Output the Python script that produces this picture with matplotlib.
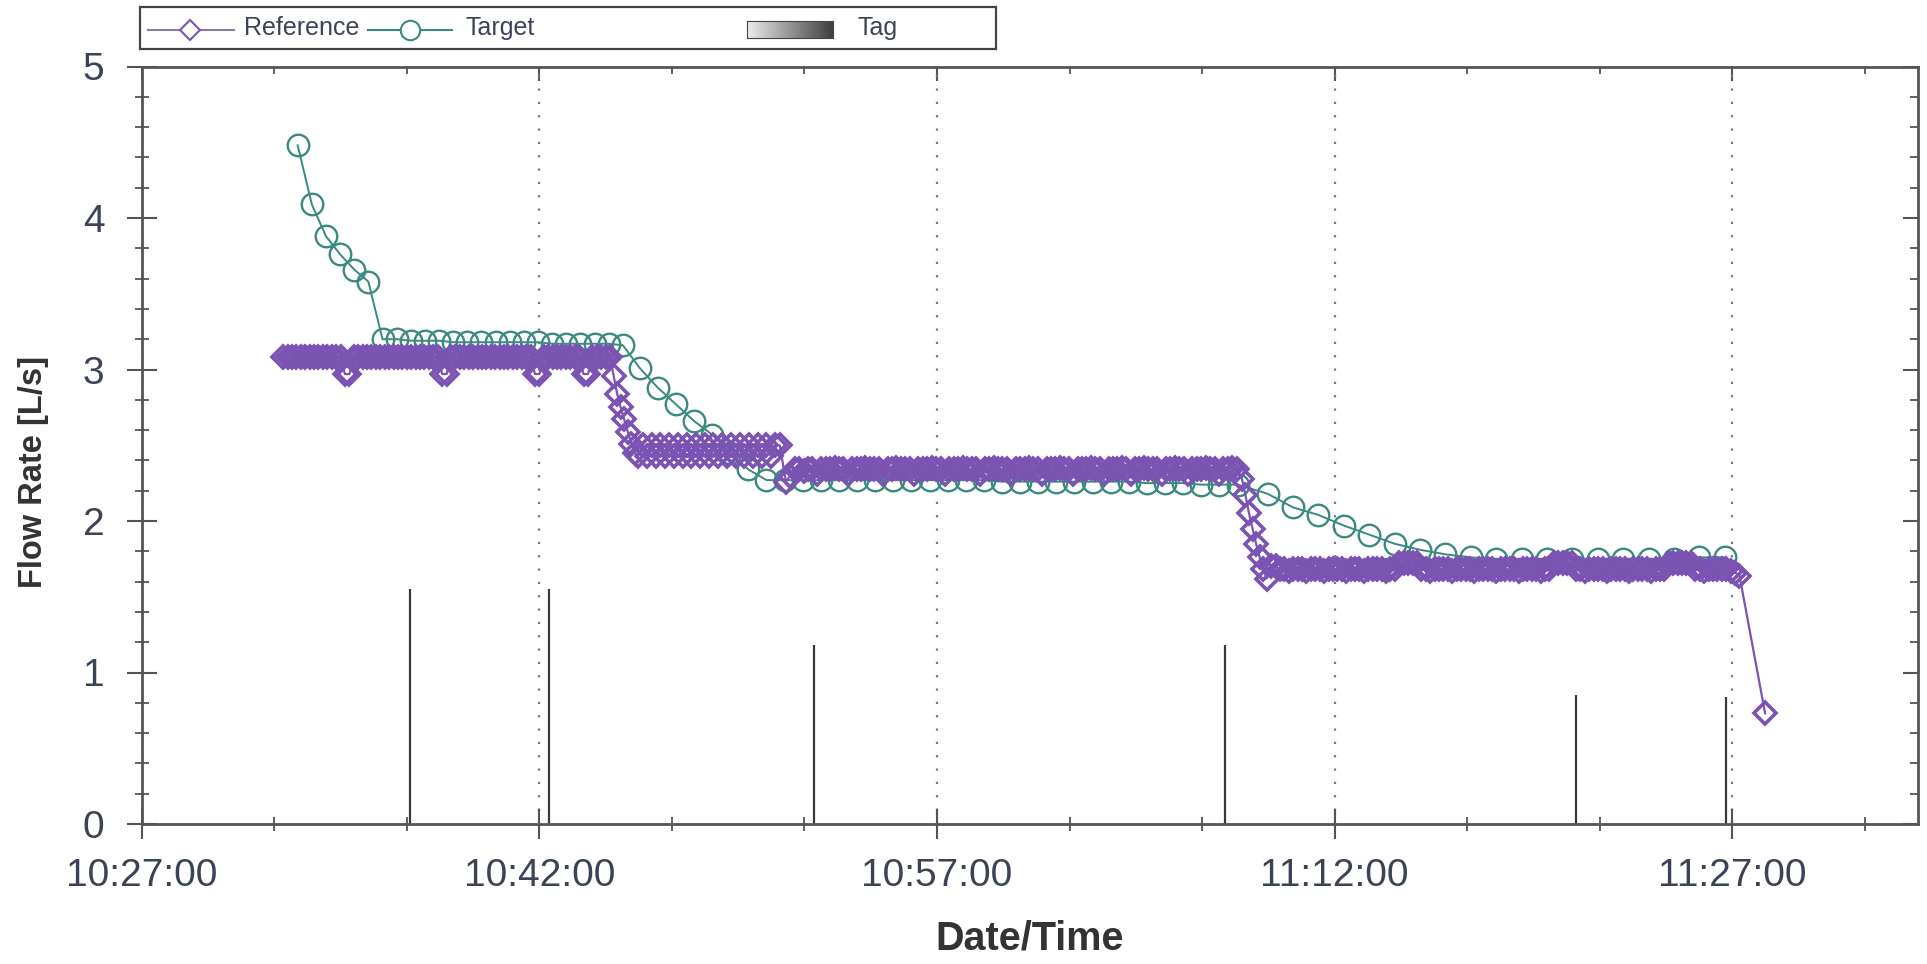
#!/usr/bin/python3

import numpy as np
import pandas as pd
import matplotlib
matplotlib.use('Agg')
import matplotlib.pyplot as plt
import matplotlib.dates as mdates
from matplotlib import font_manager
from matplotlib.lines import Line2D
from matplotlib.patches import Rectangle
from matplotlib.ticker import MultipleLocator

DAY = '2021-01-01 '

# Reference flow is logged in runs: start time, step in seconds, values
ref_starts = ['10:32:20', '10:44:48', '10:45:44', '10:51:18', '11:08:30', '11:09:36', '11:28:14']
ref_steps = [10, 8, 10, 10, 8, 10, 10]

ref_run1 = [
	3.08, 3.08, 3.08, 3.08, 3.08, 3.08, 3.08, 3.08, 3.08, 3.08,
	3.08, 3.08, 3.08, 3.08, 2.97, 2.97, 3.08, 3.08, 3.08, 3.08,
	3.08, 3.08, 3.08, 3.08, 3.08, 3.08, 3.08, 3.08, 3.08, 3.08,
	3.08, 3.08, 3.08, 3.08, 3.08, 3.08, 2.97, 2.97, 3.08, 3.08,
	3.08, 3.08, 3.08, 3.08, 3.08, 3.08, 3.08, 3.08, 3.08, 3.08,
	3.08, 3.08, 3.08, 3.08, 3.08, 3.08, 3.08, 2.97, 2.97, 3.08,
	3.08, 3.08, 3.08, 3.08, 3.08, 3.08, 3.08, 3.08, 2.97, 2.97,
	3.08, 3.08, 3.08, 3.08, 3.08]
ref_run2 = [2.96, 2.84, 2.75, 2.67, 2.59, 2.51, 2.45]
ref_run3 = [
	2.43, 2.50, 2.43, 2.50, 2.43, 2.50, 2.43, 2.50, 2.43, 2.50, 2.43,
	2.50, 2.43, 2.50, 2.43, 2.50, 2.43, 2.50, 2.43, 2.50, 2.43, 2.50,
	2.43, 2.50, 2.43, 2.50, 2.43, 2.50, 2.43, 2.50, 2.43, 2.50, 2.50]
ref_run4 = [
	2.26, 2.30, 2.34, 2.34, 2.33, 2.34, 2.34, 2.31, 2.34, 2.34,
	2.34, 2.35, 2.34, 2.34, 2.31, 2.34, 2.34, 2.34, 2.35, 2.34,
	2.34, 2.34, 2.31, 2.34, 2.34, 2.35, 2.34, 2.34, 2.34, 2.31,
	2.34, 2.34, 2.34, 2.35, 2.34, 2.34, 2.31, 2.34, 2.34, 2.34,
	2.35, 2.34, 2.34, 2.34, 2.31, 2.34, 2.34, 2.35, 2.34, 2.34,
	2.34, 2.31, 2.34, 2.34, 2.34, 2.35, 2.34, 2.34, 2.31, 2.34,
	2.34, 2.34, 2.35, 2.34, 2.34, 2.31, 2.34, 2.34, 2.34, 2.35,
	2.34, 2.34, 2.31, 2.34, 2.34, 2.34, 2.35, 2.34, 2.31, 2.34,
	2.34, 2.35, 2.34, 2.34, 2.34, 2.31, 2.34, 2.34, 2.35, 2.34,
	2.34, 2.31, 2.34, 2.34, 2.34, 2.35, 2.34, 2.34, 2.31, 2.34,
	2.34, 2.35, 2.34]
ref_run5 = [2.28, 2.17, 2.05, 1.95, 1.85, 1.76, 1.68, 1.62]
ref_run6 = [
	1.70, 1.70, 1.68, 1.68, 1.67, 1.68, 1.68, 1.68, 1.67, 1.68,
	1.68, 1.68, 1.67, 1.68, 1.68, 1.68, 1.68, 1.67, 1.68, 1.68,
	1.68, 1.67, 1.68, 1.68, 1.68, 1.68, 1.67, 1.68, 1.68, 1.72,
	1.72, 1.72, 1.72, 1.72, 1.68, 1.68, 1.67, 1.68, 1.68, 1.68,
	1.68, 1.67, 1.68, 1.68, 1.68, 1.68, 1.67, 1.68, 1.68, 1.68,
	1.68, 1.67, 1.68, 1.68, 1.68, 1.68, 1.67, 1.68, 1.68, 1.68,
	1.68, 1.67, 1.68, 1.68, 1.72, 1.72, 1.72, 1.72, 1.72, 1.68,
	1.68, 1.67, 1.68, 1.68, 1.68, 1.68, 1.67, 1.68, 1.68, 1.68,
	1.68, 1.67, 1.68, 1.68, 1.68, 1.68, 1.67, 1.68, 1.68, 1.68,
	1.72, 1.72, 1.72, 1.72, 1.72, 1.72, 1.68, 1.68, 1.67, 1.68,
	1.68, 1.68, 1.68, 1.68, 1.67, 1.66, 1.64]
ref_run7 = [0.73]
ref_runs = [ref_run1, ref_run2, ref_run3, ref_run4, ref_run5, ref_run6, ref_run7]

# Target flow, same layout
target_starts = ['10:32:53', '10:45:47', '11:09:28']
target_steps = [32, 41, 57.5]
target_run1 = [4.48, 4.09, 3.88, 3.76, 3.66, 3.58, 3.20, 3.20, 3.19, 3.19, 3.19, 3.18,
	3.18, 3.18, 3.18, 3.18, 3.18, 3.18, 3.17, 3.17, 3.17, 3.17, 3.17, 3.16]
target_run2 = [3.01, 2.88, 2.77, 2.66, 2.57, 2.45, 2.34, 2.27,
	2.27, 2.27, 2.27, 2.27, 2.27, 2.27, 2.27, 2.27, 2.27, 2.27, 2.27, 2.27,
	2.26, 2.26, 2.26, 2.26, 2.26, 2.26, 2.26, 2.26, 2.25, 2.25, 2.25, 2.24, 2.24, 2.24]
target_run3 = [2.18, 2.09, 2.04, 1.97, 1.91, 1.85, 1.81, 1.78, 1.76, 1.75,
	1.75, 1.75, 1.75, 1.75, 1.75, 1.75, 1.75, 1.76, 1.76]
target_runs = [target_run1, target_run2, target_run3]

tag_times = ['10:37:08', '10:42:21', '10:52:21', '11:07:52', '11:21:05', '11:26:45']
tag_heights = [1.55, 1.55, 1.18, 1.18, 0.85, 0.84]

x_start = '10:27:00'
x_end = '11:34:00'

REF_COLOR = '#7b53b3'
TGT_COLOR = '#3a8a80'
TAG_COLOR = '#3a3a3a'
AXIS_COLOR = '#555555'
TEXT_COLOR = '#3d4356'

W, H = 1927, 964


def fx(px):
	return px / W


def fy(py):
	return 1 - py / H


def narrow_font():
	''' condensed family if one is installed'''

	try:
		font_manager.findfont('Liberation Sans Narrow', fallback_to_default=False)
		return 'Liberation Sans Narrow'
	except ValueError:
		return None


def main():
	'''main function'''

	plt.rcParams['font.family'] = ['Liberation Sans', 'DejaVu Sans']
	narrow = narrow_font()

	ref = build_series(ref_starts, ref_steps, ref_runs)
	target = build_series(target_starts, target_steps, target_runs)
	tags = pd.to_datetime([DAY + t for t in tag_times])

	fig = plt.figure(figsize=(W / 100, H / 100), dpi=100)
	ax = fig.add_axes([fx(141.7), fy(824), fx(1918) - fx(141.7), fy(66.5) - fy(824)])

	ax.vlines(tags, 0, tag_heights, color=TAG_COLOR, lw=1.6, zorder=2)
	ax.plot(target.index, target.values, color=TGT_COLOR, lw=1.4, marker='o', ms=15.5,
		mfc='none', mec=TGT_COLOR, mew=1.7, zorder=3)
	ax.plot(ref.index, ref.values, color=REF_COLOR, lw=1.6, marker='D', ms=11,
		mfc='none', mec=REF_COLOR, mew=2.6, zorder=4)

	style_axes(ax, narrow)
	draw_legend(fig, narrow)

	fig.savefig('out.png', dpi=100)


def build_series(starts, steps, runs):
	''' joins runs of evenly logged samples into one time series'''

	times = []
	values = []
	for start, step, run in zip(starts, steps, runs):
		t0 = pd.Timestamp(DAY + start)
		for i, v in enumerate(run):
			times.append(t0 + pd.Timedelta(seconds=step * i))
			values.append(v)
	return pd.Series(values, index=pd.DatetimeIndex(times))


def style_axes(ax, narrow):
	''' ticks, grid, limits and labels'''

	ax.set_xlim(pd.Timestamp(DAY + x_start), pd.Timestamp(DAY + x_end))
	ax.set_ylim(0, 5)

	ax.xaxis.set_major_locator(mdates.MinuteLocator(byminute=[12, 27, 42, 57]))
	ax.xaxis.set_minor_locator(mdates.MinuteLocator(byminute=range(2, 60, 5)))
	ax.xaxis.set_major_formatter(mdates.DateFormatter('%H:%M:%S'))
	ax.yaxis.set_major_locator(MultipleLocator(1))
	ax.yaxis.set_minor_locator(MultipleLocator(0.2))

	ax.tick_params(which='major', direction='inout', length=21.6, width=1.5,
		color=AXIS_COLOR, labelsize=28, labelcolor=TEXT_COLOR)
	ax.tick_params(which='minor', direction='inout', length=10, width=1.3, color=AXIS_COLOR)
	ax.tick_params(axis='x', which='major', pad=14)
	ax.tick_params(axis='y', which='major', pad=16)

	for spine in ax.spines.values():
		spine.set_color(AXIS_COLOR)
		spine.set_linewidth(2)

	ax.grid(axis='x', which='major', linestyle=(0, (1, 5)), color='#777777', lw=1.6)

	# inward ticks on the top and right sides
	top = ax.secondary_xaxis('top')
	top.xaxis.set_major_locator(mdates.MinuteLocator(byminute=[12, 27, 42, 57]))
	top.xaxis.set_minor_locator(mdates.MinuteLocator(byminute=range(2, 60, 5)))
	top.tick_params(which='major', direction='in', length=11, width=1.5, color=AXIS_COLOR, labeltop=False)
	top.tick_params(which='minor', direction='in', length=5.5, width=1.3, color=AXIS_COLOR)
	top.spines['top'].set_visible(False)

	right = ax.secondary_yaxis('right')
	right.yaxis.set_major_locator(MultipleLocator(1))
	right.yaxis.set_minor_locator(MultipleLocator(0.2))
	right.tick_params(which='major', direction='in', length=11, width=1.5, color=AXIS_COLOR, labelright=False)
	right.tick_params(which='minor', direction='in', length=5.5, width=1.3, color=AXIS_COLOR)
	right.spines['right'].set_visible(False)

	ax.set_xlabel('Date/Time', fontsize=28.5, fontweight='bold', color='#333333', labelpad=18)
	if narrow:
		ax.set_ylabel('Flow Rate [L/s]', fontsize=28.5, fontweight='bold', color='#333333',
			family=[narrow, 'Liberation Sans'])
	else:
		ax.set_ylabel('Flow Rate [L/s]', fontsize=23.5, fontweight='bold', color='#333333')
	ax.yaxis.set_label_coords(-0.052, 0.465)


def draw_legend(fig, narrow):
	''' legend box above the plot, drawn by hand'''

	if narrow:
		font = dict(fontsize=22.5, family=[narrow, 'Liberation Sans'])
	else:
		font = dict(fontsize=18)

	fig.add_artist(Rectangle((fx(140), fy(49)), fx(996) - fx(140), fy(7) - fy(49),
		transform=fig.transFigure, fill=False, ec='#444444', lw=1.6))

	y = fy(30)
	ty = fy(28)
	fig.add_artist(Line2D([fx(148), fx(234)], [y, y], transform=fig.transFigure, color='#8a78b0', lw=1.5))
	fig.add_artist(Line2D([fx(190)], [y], transform=fig.transFigure, marker='D', ms=10,
		mfc='white', mec=REF_COLOR, mew=1.5, ls='none'))
	fig.text(fx(244), ty, 'Reference', color=TEXT_COLOR, va='center', ha='left', **font)

	fig.add_artist(Line2D([fx(368), fx(452)], [y, y], transform=fig.transFigure, color=TGT_COLOR, lw=1.5))
	fig.add_artist(Line2D([fx(410)], [y], transform=fig.transFigure, marker='o', ms=14,
		mfc='white', mec=TGT_COLOR, mew=1.5, ls='none'))
	fig.text(fx(465), ty, 'Target', color=TEXT_COLOR, va='center', ha='left', **font)

	gax = fig.add_axes([fx(747), fy(38), fx(833) - fx(747), fy(21) - fy(38)])
	gax.imshow(np.linspace(0.92, 0.25, 64).reshape(1, -1), cmap='gray', vmin=0, vmax=1, aspect='auto')
	gax.set_xticks([])
	gax.set_yticks([])
	for spine in gax.spines.values():
		spine.set_color('#444444')
	fig.text(fx(857), ty, 'Tag', color=TEXT_COLOR, va='center', ha='left', **font)


if __name__ == '__main__':
	main()
